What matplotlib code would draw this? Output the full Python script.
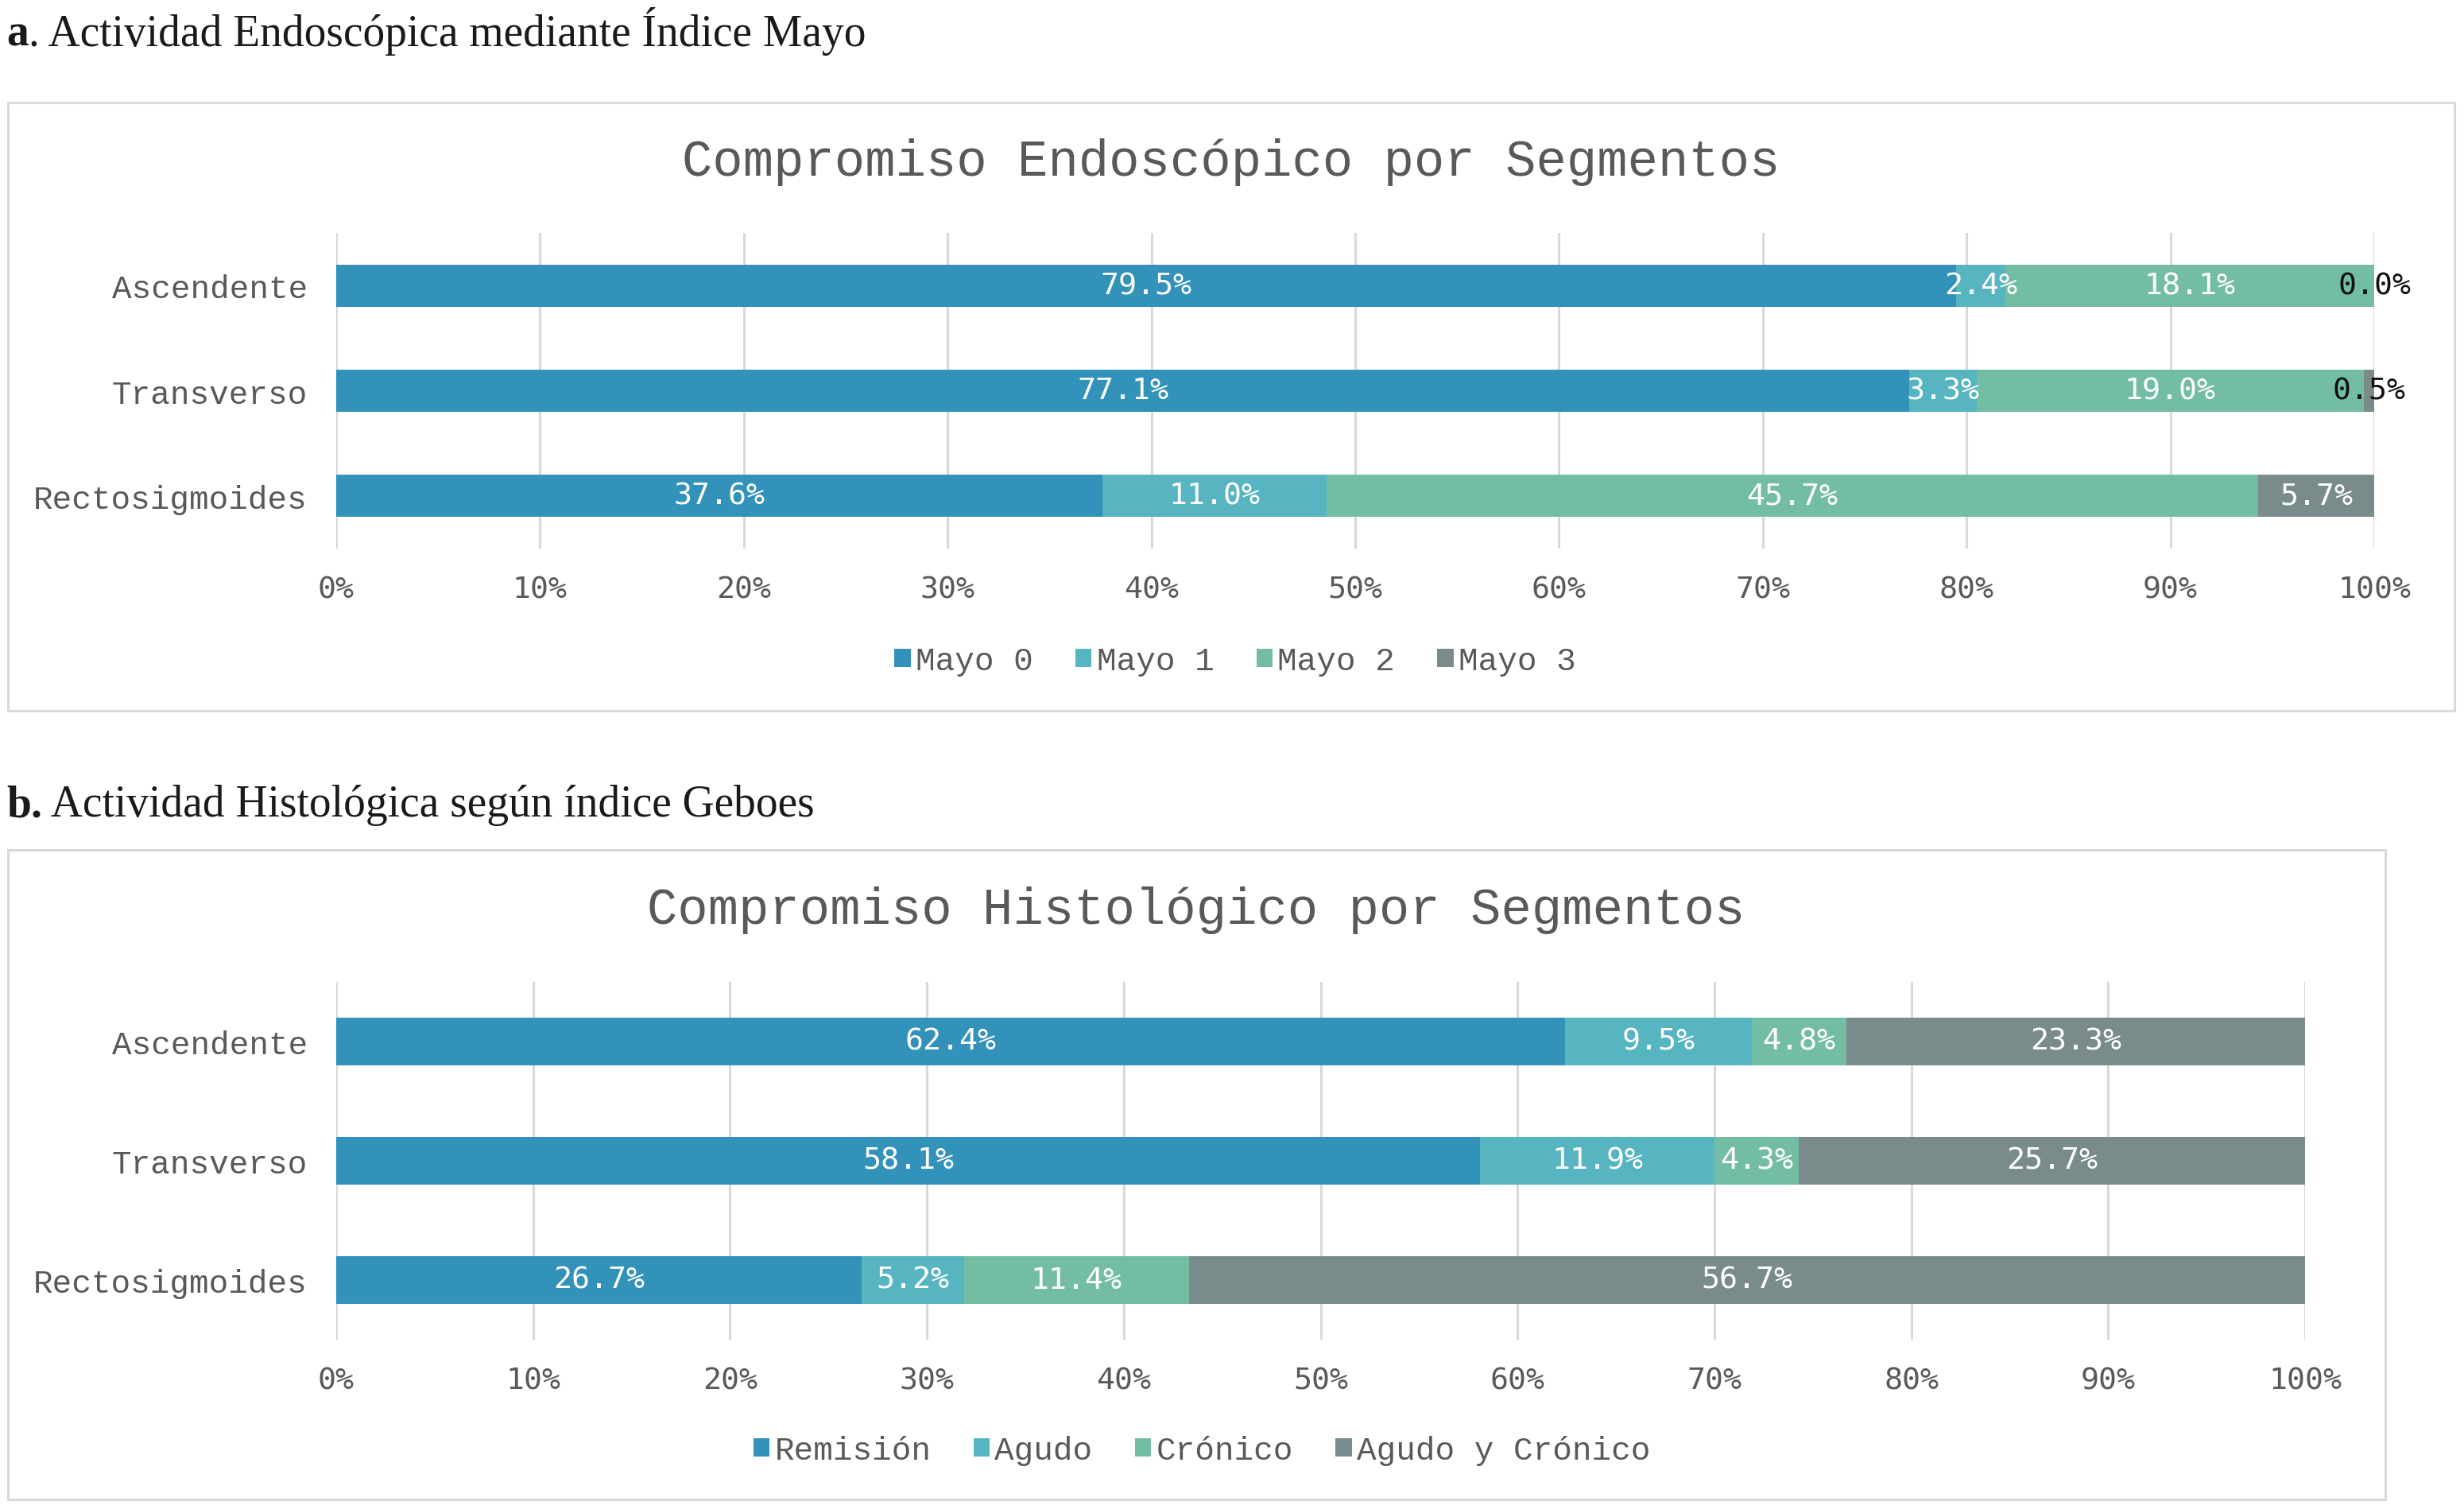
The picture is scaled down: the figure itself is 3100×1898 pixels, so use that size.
import matplotlib
matplotlib.use("Agg")
import matplotlib.pyplot as plt
from matplotlib.patches import Rectangle
import numpy as np

# ---------------- data ----------------
segments = ["Ascendente", "Transverso", "Rectosigmoides"]

endo_series = ["Mayo 0", "Mayo 1", "Mayo 2", "Mayo 3"]
mayo0 = [79.5, 77.1, 37.6]
mayo1 = [2.4, 3.3, 11.0]
mayo2 = [18.1, 19.0, 45.7]
mayo3 = [0.0, 0.5, 5.7]

histo_series = ["Remisión", "Agudo", "Crónico", "Agudo y Crónico"]
remision = [62.4, 58.1, 26.7]
agudo = [9.5, 11.9, 5.2]
cronico = [4.8, 4.3, 11.4]
agudo_cronico = [23.3, 25.7, 56.7]

x_ticks = [0, 10, 20, 30, 40, 50, 60, 70, 80, 90, 100]
x_tick_labels = [f"{t}%" for t in x_ticks]

heading_a = ("a", ". Actividad Endoscópica mediante Índice Mayo")
heading_b = ("b.", " Actividad Histológica según índice Geboes")
title_a = "Compromiso Endoscópico por Segmentos"
title_b = "Compromiso Histológico por Segmentos"

# ---------------- style ----------------
colors = ["#3392BA", "#56B5C0", "#74BDA5", "#7A8B8C"]
grey = "#595959"
grid_col = "#D9D9D9"
MONO = ["Liberation Mono", "DejaVu Sans Mono"]
SANSMONO = ["DejaVu Sans Mono"]
SERIF = ["Liberation Serif", "DejaVu Serif"]

W, H = 3100, 1899
fig = plt.figure(figsize=(W / 100, H / 100), dpi=100)


def fx(px):
    return px / W


def fy(py):
    return 1 - py / H


# boxes around charts
for (x0, y0, x1, y1) in [(10, 130, 3088, 895), (10, 1070, 3001, 1887)]:
    fig.patches.append(Rectangle((fx(x0), fy(y1)), fx(x1) - fx(x0), fy(y0) - fy(y1),
                                 transform=fig.transFigure, fill=False,
                                 edgecolor=grid_col, linewidth=2.2, zorder=0))

# headings with bold letter
def heading(bold, rest, x, y):
    t = fig.text(fx(x), fy(y), bold, fontfamily=SERIF, fontsize=40,
                 fontweight="bold", color="#1a1a1a", va="baseline", ha="left")
    fig.canvas.draw()
    bb = t.get_window_extent()
    fig.text(bb.x1 / W, fy(y), rest, fontfamily=SERIF, fontsize=40,
             color="#1a1a1a", va="baseline", ha="left")


heading(*heading_a, 8, 58)
heading(*heading_b, 8, 1027)


def draw_chart(rect, series_names, series_vals, title, title_xy, legend_xy):
    ax = fig.add_axes(rect)
    vals = np.array(series_vals, dtype=float)
    totals = vals.sum(axis=0)
    norm = vals / totals * 100
    y = np.arange(len(segments))
    left = np.zeros(len(segments))
    for i, name in enumerate(series_names):
        w = norm[i]
        ax.barh(y, w, left=left, height=0.4, color=colors[i], label=name,
                zorder=3)
        for j in range(len(segments)):
            v = vals[i][j]
            tc = "white" if v >= 1 else "#111111"
            ax.text(left[j] + w[j] / 2, y[j], f"{v:.1f}%", ha="center",
                    va="center", fontfamily=SANSMONO, fontsize=27.5,
                    color=tc, zorder=5)
        left = left + w
    ax.set_xlim(0, 100)
    ax.set_ylim(len(segments) - 0.5, -0.5)
    ax.set_yticks(y)
    ax.set_yticklabels(segments, fontfamily=MONO, fontsize=29.5, color=grey)
    ax.set_xticks(x_ticks)
    ax.set_xticklabels(x_tick_labels, fontfamily=SANSMONO, fontsize=27.5,
                       color=grey)
    ax.tick_params(axis="both", length=0)
    ax.tick_params(axis="x", pad=24)
    ax.tick_params(axis="y", pad=26)
    for s in ax.spines.values():
        s.set_visible(False)
    ax.grid(axis="x", color=grid_col, linewidth=2.2, zorder=0)
    ax.set_axisbelow(True)
    fig.text(fx(title_xy[0]), fy(title_xy[1]), title, ha="center",
             va="center", fontfamily=MONO, fontsize=46, color=grey)
    leg = ax.legend(loc="center", bbox_to_anchor=(fx(legend_xy[0]), fy(legend_xy[1])),
                    bbox_transform=fig.transFigure, ncol=len(series_names),
                    frameon=False, handlelength=0.5, handleheight=0.5,
                    handletextpad=0.15, columnspacing=1.3,
                    prop={"family": MONO, "size": 29.5})
    for t in leg.get_texts():
        t.set_color(grey)
    return ax


draw_chart([fx(423), fy(691), fx(2987) - fx(423), fy(294) - fy(691)],
           endo_series, [mayo0, mayo1, mayo2, mayo3], title_a,
           (1549, 204), (1554, 832))

draw_chart([fx(423), fy(1686), fx(2900) - fx(423), fy(1236) - fy(1686)],
           histo_series, [remision, agudo, cronico, agudo_cronico], title_b,
           (1505, 1145), (1512, 1825))

fig.savefig("out.png", dpi=100, facecolor="white")
